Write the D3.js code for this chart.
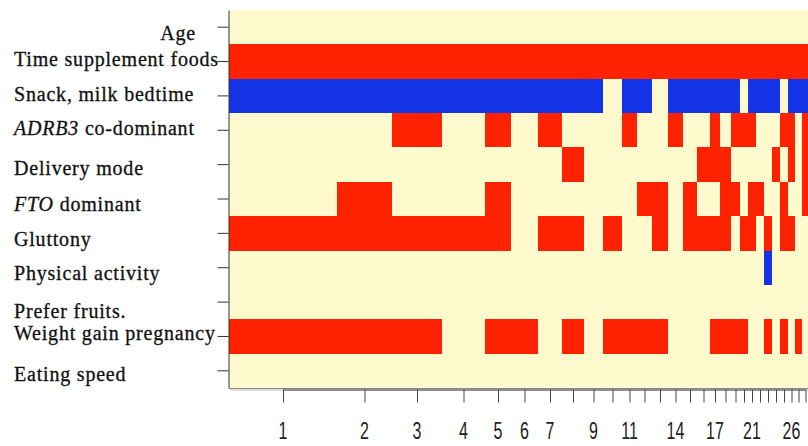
<!DOCTYPE html>
<html lang="en">
<head>
<meta charset="utf-8">
<title>Tree heatmap</title>
<script src="https://d3js.org/d3.v7.min.js"></script>
<style>
  body { margin: 0; background: #fff; }
  .rowlab { font-family: "Liberation Serif", "Times New Roman", serif; font-size: 20px; letter-spacing: 0.8px; fill: #111; stroke: #111; stroke-width: 0.3px; }
  .collab { font-family: "Liberation Sans", Arial, sans-serif; font-size: 23.5px; fill: #222; }
</style>
</head>
<body>
<div id="chart"></div>
<script>
// row names (top to bottom)
const rowNames = ["Age", "Time supplement foods", "Snack, milk bedtime", "ADRB3 co-dominant",
  "Delivery mode", "FTO dominant", "Gluttony", "Physical activity", "Prefer fruits.",
  "Weight gain pregnancy", "Eating speed"];
// gene names are set in italics
const italicPart = { "ADRB3 co-dominant": "ADRB3", "FTO dominant": "FTO" };

// relative size of every terminal group (column)
const groupSizes = [108, 55, 50, 43, 26, 27, 24, 22, 19, 19, 15, 15, 16, 15, 14, 13, 10, 11, 9, 8, 8, 8, 8, 8, 8, 7, 7, 7];

// 1 = red, -1 = blue, 0 = not in the rule
const age            = [0,0,0,0,0,0,0,0,0,0,0,0,0,0,0,0,0,0,0,0,0,0,0,0,0,0,0,0];
const timeSupplement = [1,1,1,1,1,1,1,1,1,1,1,1,1,1,1,1,1,1,1,1,1,1,1,1,1,1,1,1];
const snackMilk      = [-1,-1,-1,-1,-1,-1,-1,-1,-1,0,-1,-1,0,-1,-1,-1,-1,-1,-1,0,-1,-1,-1,-1,0,-1,-1,-1];
const adrb3          = [0,0,1,0,1,0,1,0,0,0,1,0,0,1,0,0,1,0,1,1,1,0,0,0,1,1,0,1];
const delivery       = [0,0,0,0,0,0,0,1,0,0,0,0,0,0,0,1,1,1,0,0,0,0,0,1,0,1,0,1];
const fto            = [0,1,0,0,1,0,0,0,0,0,0,1,1,0,1,0,0,1,1,0,1,1,0,0,1,0,0,1];
const gluttony       = [1,1,1,1,1,0,1,1,0,1,0,0,1,0,1,1,1,1,0,1,1,0,1,0,1,1,0,0];
const physical       = [0,0,0,0,0,0,0,0,0,0,0,0,0,0,0,0,0,0,0,0,0,0,-1,0,0,0,0,0];
const preferFruits   = [0,0,0,0,0,0,0,0,0,0,0,0,0,0,0,0,0,0,0,0,0,0,0,0,0,0,0,0];
const weightGain     = [1,1,1,0,1,1,0,1,0,1,1,1,1,0,0,0,1,1,1,1,0,0,1,0,1,0,1,0];
const eatingSpeed    = [0,0,0,0,0,0,0,0,0,0,0,0,0,0,0,0,0,0,0,0,0,0,0,0,0,0,0,0];

// column numbers that carry a label on the x axis
const shownTicks = [1, 2, 3, 4, 5, 6, 7, 9, 11, 14, 17, 21, 26];

const rows = [age, timeSupplement, snackMilk, adrb3, delivery, fto, gluttony,
  physical, preferFruits, weightGain, eatingSpeed];

// small vertical nudges for the row labels (they sit unevenly in the original)
const labelDy = [13, 4, 5, 5, 10, 12, 13, 12, 16, 4, 10];

const width = 808, height = 446;
const panelLeft = 229, panelRight = 809, panelTop = 10, panelBottom = 388;

const svg = d3.select("#chart").append("svg")
  .attr("width", width).attr("height", height);

const total = d3.sum(groupSizes);
const x = d3.scaleLinear().domain([0, total]).range([panelLeft, panelRight]);
const starts = d3.cumsum([0].concat(groupSizes));
const cols = d3.range(1, groupSizes.length + 1);
const xc = d3.scaleOrdinal()
  .domain(cols)
  .range(groupSizes.map((g, i) => x(starts[i] + g / 2)));

const y = d3.scaleBand().domain(rowNames).range([panelTop, panelBottom]);

const colour = v => v > 0 ? "#ff2200" : v < 0 ? "#1432e6" : "#fffacd";

// cells
const cells = [];
rows.forEach((r, ri) => r.forEach((v, ci) => cells.push({ row: rowNames[ri], col: ci, v: v })));

svg.append("g")
  .selectAll("rect")
  .data(cells)
  .join("rect")
  .attr("x", d => x(starts[d.col]))
  .attr("width", d => x(starts[d.col + 1]) - x(starts[d.col]))
  .attr("y", d => y(d.row))
  .attr("height", y.bandwidth())
  .attr("fill", d => colour(d.v))
  .attr("shape-rendering", "crispEdges");

// panel bottom edge with a soft shadow
svg.append("line")
  .attr("x1", panelLeft).attr("x2", width).attr("y1", panelBottom + 0.5).attr("y2", panelBottom + 0.5)
  .attr("stroke", "#888");
svg.append("line")
  .attr("x1", panelLeft + 1).attr("x2", width).attr("y1", panelBottom + 2).attr("y2", panelBottom + 2)
  .attr("stroke", "#ddd").attr("stroke-width", 2);

// left axis
const yAxis = svg.append("g")
  .attr("transform", `translate(${panelLeft - 0.5},0)`)
  .call(d3.axisLeft(y).tickSize(11).tickSizeOuter(0).tickFormat(""));
yAxis.selectAll("path, line").attr("stroke", "#333");

// row labels
const labs = svg.append("g").selectAll("text")
  .data(rowNames)
  .join("text")
  .attr("class", "rowlab")
  .attr("x", (d, i) => i === 0 ? 196 : 14)
  .attr("text-anchor", (d, i) => i === 0 ? "end" : "start")
  .attr("y", (d, i) => y(d) + y.bandwidth() / 2 + labelDy[i]);

labs.each(function (d) {
  const t = d3.select(this);
  const it = italicPart[d];
  if (it) {
    t.append("tspan").attr("font-style", "italic").text(it);
    t.append("tspan").text(d.slice(it.length));
  } else {
    t.text(d);
  }
});

// bottom axis at the group centres
const xAxis = svg.append("g")
  .attr("transform", `translate(0,${panelBottom + 1.5})`)
  .call(d3.axisBottom(xc).tickSize(13).tickSizeOuter(0).tickFormat(""));
xAxis.selectAll("path, line").attr("stroke", "#444");

svg.append("g").selectAll("text")
  .data(shownTicks)
  .join("text")
  .attr("class", "collab")
  .attr("text-anchor", "middle")
  .attr("transform", d => `translate(${xc(d)},439) scale(0.68,1)`)
  .text(d => d);
</script>
</body>
</html>
